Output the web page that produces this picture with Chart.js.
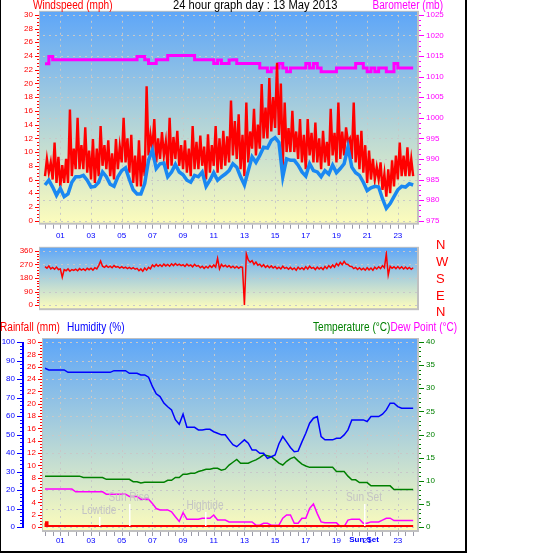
<!DOCTYPE html>
<html>
<head>
<meta charset="utf-8">
<script src="https://cdn.jsdelivr.net/npm/chart.js@4.4.1/dist/chart.umd.min.js"></script>
<style>
body { margin: 0; background: #fff; }
#wrap { position: relative; width: 543px; height: 555px; overflow: hidden; font-family: "Liberation Sans", Arial, sans-serif; }
#frame { position: absolute; left: 0; top: 0; width: 464px; height: 551px; border-left: 1px solid #000; border-right: 2px solid #000; border-bottom: 2px solid #000; }
canvas { position: absolute; left: 0; }
.t { position: absolute; font-size: 12px; line-height: 12px; white-space: nowrap; transform: scaleX(0.84); transform-origin: left top; }
.r { transform-origin: right top; }
.c { position: absolute; left: 436px; font-size: 13px; line-height: 13px; color: #f00; }
</style>
</head>
<body>
<div id="wrap">
  <div id="frame"></div>
  <canvas id="wind" width="466" height="240" style="top:0"></canvas>
  <canvas id="dir" width="466" height="84" style="top:236px"></canvas>
  <canvas id="temp" width="466" height="235" style="top:320px"></canvas>
  <div class="t" style="left:33px;top:-1px;color:#f00">Windspeed (mph)</div>
  <div class="t" style="left:173px;top:-1px;color:#000;transform:scaleX(0.93)">24 hour graph day : 13 May 2013</div>
  <div class="t r" style="right:100px;top:-1px;color:#f0f">Barometer (mb)</div>
  <div class="c" style="top:238px">N</div>
  <div class="c" style="top:255px">W</div>
  <div class="c" style="top:272px">S</div>
  <div class="c" style="top:289px">E</div>
  <div class="c" style="top:305px">N</div>
  <div class="t" style="left:0;top:321px;color:#f00">Rainfall (mm)</div>
  <div class="t" style="left:67px;top:321px;color:#00f">Humidity (%)</div>
  <div class="t" style="left:313px;top:321px;color:#008000">Temperature (°C)<span style="color:#f0f">Dew Point (°C)</span></div>
</div>
<script>
// readings every 15 minutes, 00:00 .. 24:00
const windAvg = [
  5.2, 5.9, 4.9, 3.7,   4.7, 3.5, 3.9, 5.6,   6.4, 6.4, 6.6, 5.9,   4.9, 5.0, 5.6, 7.1,
  6.4, 5.3, 5.0, 6.4,   7.3, 7.7, 6.0, 4.5,   3.9, 3.9, 5.4, 8.8,   10.3, 7.6, 8.3, 8.4,
  6.4, 7.1, 8.2, 7.1,   6.7, 5.9, 5.6, 6.6,   6.4, 7.1, 5.0, 5.9,   7.0, 5.9, 6.4, 6.8,
  7.3, 8.3, 7.8, 6.4,   5.2, 7.3, 9.3, 8.5,   9.5, 10.7, 10.6, 11.7, 12.1, 11.4, 6.4, 9.0,
  8.8, 8.8, 8.1, 7.1,   6.5, 8.3, 7.3, 7.1,   6.4, 7.3, 6.8, 8.1,   7.0, 7.6, 8.3, 10.7,
  7.8, 7.0, 6.6, 5.6,   4.4, 4.8, 5.0, 4.9,   3.2, 1.8, 2.5, 3.5,   4.5, 5.0, 4.9, 5.4,
  5.2
];

// gusts every 7.5 minutes
const windGust = [
  6.5, 9.0, 7.0, 8.5, 6.0, 11.4, 5.5, 9.3,
  5.0, 8.1, 5.5, 9.0, 5.5, 16.2, 6.5, 10.5,
  7.5, 15.0, 7.5, 11.0, 7.5, 13.6, 7.0, 10.2,
  6.0, 11.9, 5.5, 10.5, 6.5, 13.8, 8.0, 11.0,
  7.5, 11.7, 6.5, 9.8, 6.0, 11.9, 7.5, 10.8,
  8.5, 15.0, 8.5, 12.0, 7.0, 12.5, 5.5, 9.5,
  5.0, 11.7, 5.0, 9.5, 6.5, 19.6, 9.5, 12.5,
  10.5, 14.8, 8.5, 12.0, 9.0, 12.9, 9.5, 11.5,
  7.5, 15.0, 8.0, 12.2, 9.0, 13.1, 8.0, 11.0,
  7.5, 11.7, 7.0, 10.5, 6.5, 13.8, 7.5, 11.5,
  7.5, 12.4, 8.0, 10.8, 6.0, 12.6, 7.0, 11.0,
  8.0, 13.8, 7.0, 12.0, 7.5, 13.1, 8.0, 12.3,
  8.5, 17.5, 9.5, 14.5, 9.0, 15.5, 7.5, 12.5,
  6.5, 17.2, 8.5, 13.0, 10.5, 16.3, 9.5, 14.0,
  10.5, 19.9, 12.0, 16.5, 12.0, 20.8, 13.0, 18.0,
  13.5, 23.0, 12.5, 20.0, 8.0, 17.2, 10.0, 13.5,
  10.0, 16.0, 10.0, 13.0, 9.0, 14.8, 8.5, 12.5,
  7.5, 14.8, 9.5, 12.8, 8.5, 14.3, 8.5, 12.0,
  7.5, 13.1, 8.5, 11.5, 8.0, 16.3, 9.5, 12.8,
  8.5, 17.2, 9.0, 13.0, 9.5, 13.6, 11.5, 12.0,
  9.0, 17.2, 8.5, 12.5, 7.5, 13.1, 7.0, 11.0,
  5.5, 10.2, 6.0, 9.0, 6.0, 7.8, 6.0, 8.5,
  4.5, 6.8, 3.5, 7.5, 4.0, 8.8, 5.0, 9.5,
  6.0, 11.4, 6.5, 9.5, 6.5, 10.7, 6.5, 9.0,
  6.5
];

// barometer every 15 minutes (mb)
const baro = [
  1013.1, 1014.9, 1014.1, 1014.1,  1014.1, 1014.1, 1014.1, 1014.1,  1014.1, 1014.1, 1014.1, 1014.1,
  1014.1, 1014.1, 1014.1, 1014.1,  1014.1, 1014.1, 1014.1, 1014.1,  1014.1, 1014.1, 1014.1, 1014.1,
  1014.9, 1014.9, 1014.1, 1013.2,  1013.2, 1014.1, 1014.1, 1014.1,  1015.1, 1015.1, 1015.1, 1015.1,
  1015.1, 1015.1, 1015.1, 1014.1,  1014.1, 1014.1, 1014.1, 1014.1,  1013.2, 1014.0, 1013.2, 1013.2,
  1014.0, 1014.1, 1013.2, 1013.2,  1013.2, 1013.2, 1013.2, 1013.2,  1012.1, 1012.1, 1011.2, 1012.1,
  1012.1, 1013.2, 1012.1, 1011.2,  1012.1, 1012.1, 1012.1, 1012.1,  1013.2, 1012.1, 1013.2, 1012.1,
  1011.2, 1011.2, 1011.2, 1011.2,  1012.1, 1012.1, 1012.1, 1012.1,  1012.1, 1013.2, 1013.2, 1012.1,
  1011.2, 1012.1, 1011.2, 1012.1,  1012.1, 1011.2, 1011.2, 1013.2,  1012.1, 1012.1, 1012.1, 1012.1,
  1012.1
];

// wind direction every 7.5 minutes (degrees)
const windDir = [
  255, 245, 260, 240, 250, 238, 252, 236,
  240, 185, 235, 228, 240, 225, 236, 230,
  238, 228, 242, 232, 240, 230, 244, 235,
  245, 232, 248, 240, 262, 292, 258, 250,
  262, 250, 258, 248, 262, 252, 256, 246,
  255, 245, 252, 242, 250, 240, 248, 238,
  244, 228, 240, 225, 246, 232, 250, 240,
  266, 255, 270, 258, 268, 256, 272, 260,
  270, 258, 274, 262, 276, 264, 272, 262,
  268, 256, 272, 260, 266, 254, 270, 258,
  262, 248, 258, 244, 256, 246, 262, 250,
  266, 252, 310, 240, 270, 256, 264, 252,
  262, 248, 258, 246, 256, 244, 254, 250,
  0, 340, 300, 285, 295, 270, 285, 265,
  272, 255, 268, 250, 262, 248, 260, 246,
  256, 242, 252, 240, 258, 244, 250, 238,
  250, 236, 246, 232, 252, 238, 248, 236,
  254, 240, 258, 244, 250, 236, 252, 240,
  250, 236, 256, 242, 262, 248, 266, 252,
  276, 262, 284, 268, 290, 272, 270, 258,
  256, 242, 250, 236, 248, 234, 244, 232,
  248, 234, 246, 232, 252, 240, 254, 242,
  262, 248, 340, 200, 258, 244, 254, 242,
  256, 242, 254, 240, 252, 240, 250, 238,
  248
];

// every 15 minutes
const humidity = [
  85.8, 84.9, 84.9, 84.9,  84.9, 84.9, 83.6, 83.6,  83.6, 83.6, 83.6, 83.6,  83.6, 83.6, 83.6, 83.6,
  83.6, 83.6, 84.5, 84.5,  84.5, 84.5, 83.1, 83.1,  83.1, 82.2, 82.2, 81.0,  76.0, 72.0, 70.5, 67.0,
  65.0, 63.3, 58.0, 55.5,  61.0, 53.9, 53.9, 53.9,  52.5, 52.5, 52.8, 52.8,  51.5, 50.7, 49.8, 49.8,
  47.1, 44.5, 43.4, 45.3,  47.1, 45.3, 41.6, 41.6,  39.8, 39.8, 37.1, 38.0,  38.9, 45.0, 48.9, 46.0,
  43.0, 40.7, 41.0, 46.0,  50.7, 56.1, 58.8, 59.7,  48.9, 47.1, 47.1, 47.1,  48.0, 48.0, 49.8, 52.5,
  57.9, 57.9, 57.9, 57.9,  57.0, 59.7, 59.7, 59.7,  61.0, 63.3, 66.9, 66.9,  65.1, 64.2, 64.2, 64.2,
  64.2
];
const temperature = [
  11.0, 11.0, 11.0, 11.0,  11.0, 11.0, 11.0, 11.0,  11.0, 11.0, 10.7, 10.7,  10.7, 10.7, 10.7, 10.7,
  10.3, 10.3, 10.3, 10.3,  10.3, 10.3, 10.3, 9.8,   9.8, 9.5, 9.65, 9.65,   9.65, 9.65, 9.65, 9.65,
  10.1, 10.1, 10.7, 10.7,  11.4, 11.4, 11.6, 11.6,  12.0, 12.2, 12.5, 12.5,  12.7, 12.7, 12.3, 12.5,
  13.4, 14.0, 14.6, 13.8,  13.8, 13.8, 14.2, 14.5,  15.0, 15.6, 15.4, 15.2,  14.5, 13.8, 13.4, 14.2,
  14.8, 15.1, 14.3, 13.6,  13.2, 12.9, 12.9, 12.9,  12.9, 12.9, 12.9, 12.9,  12.0, 12.0, 12.0, 11.0,
  10.2, 10.2, 9.6, 9.6,    9.6, 8.9, 8.9, 8.9,      8.9, 8.9, 8.9, 8.1,      8.1, 8.1, 8.1, 8.1,
  8.1
];
const dewPoint = [
  8.2, 8.2, 8.2, 8.2,  8.2, 8.2, 8.2, 8.2,  7.6, 7.6, 7.6, 7.6,  7.6, 7.6, 7.6, 7.6,
  7.1, 7.1, 7.1, 7.1,  7.1, 7.1, 6.6, 6.6,  6.6, 6.0, 6.0, 6.0,  5.1, 4.0, 3.7, 3.7,
  3.7, 3.3, 2.2, 1.2,  3.1, 1.7, 1.7, 1.7,  1.7, 1.9, 1.9, 1.9,  2.6, 1.5, 1.5, 1.5,
  1.1, 1.1, 1.1, 1.1,  1.1, 1.1, 1.1, 0.4,  0.4, 0.8, 0.8, 0.4,  0.4, 0.4, 1.9, 2.6,
  2.6, 0.8, 0.8, 1.9,  1.9, 4.0, 5.0, 2.9,  1.1, 0.9, 0.9, 0.9,  0.9, 0.1, 0.1, 1.5,
  1.7, 1.7, 1.7, 0.8,  0.8, 1.1, 1.1, 1.1,  1.5, 1.9, 1.9, 1.4,  1.4, 1.4, 1.4, 1.4,
  1.4
];
const rainHours = [0, 0.1, 24];
const rainfall = [0.6, 0, 0];

const labelHours = [1, 3, 5, 7, 9, 11, 13, 15, 17, 19, 21, 23];
const eventNames = ['Lowtide', 'Sun Rise', 'Hightide', 'Sun Set'];
const eventHours = [3.55, 5.45, 10.4, 20.8];

const X_MIN = -0.13, X_MAX = 24.25;
const tickFont = { family: 'Liberation Sans', size: 8 };

function overDay(values) {
  return values.map((v, i) => ({ x: i * 24 / (values.length - 1), y: v }));
}

function hourAxis(show, height, pad) {
  return {
    type: 'linear', position: 'bottom', display: show, min: X_MIN, max: X_MAX,
    grid: { display: false, drawTicks: false }, border: { display: false },
    afterBuildTicks: s => { s.ticks = labelHours.map(v => ({ value: v })); },
    afterFit: s => { s.height = height; },
    ticks: { autoSkip: false, maxRotation: 0, padding: pad, color: '#0000ff', font: tickFont,
      callback: v => String(v).padStart(2, '0') }
  };
}

function valueAxis(pos, min, max, step, width, pad, color, weight) {
  return {
    type: 'linear', position: pos, min: min, max: max, weight: weight || 0,
    grid: { display: false, drawTicks: false }, border: { display: false },
    afterFit: s => { s.width = width; },
    ticks: { stepSize: step, padding: pad, color: color, font: tickFont, autoSkip: false, callback: v => v }
  };
}

// gradient plot box, dotted grid and axis tick marks
function panel(o) {
  return {
    id: 'panel',
    beforeDraw(chart) {
      const { ctx, chartArea: a } = chart;
      const l = a.left - o.ext[0], t = a.top - o.ext[1], r = a.right + o.ext[2], b = a.bottom + o.ext[3];
      ctx.save();
      ctx.fillStyle = '#c0c0c0';
      ctx.fillRect(l - 1, t - 1, r - l + 3, b - t + 3);
      const g = ctx.createLinearGradient(0, t, 0, b);
      g.addColorStop(0, '#5ea6f8');
      g.addColorStop(1, '#fcfcbc');
      ctx.fillStyle = g;
      ctx.fillRect(l, t, r - l, b - t);
      ctx.fillStyle = '#c8c8c8';
      const gs = chart.scales[o.grid];
      gs.ticks.forEach(tk => {
        const y = Math.round(gs.getPixelForValue(tk.value));
        for (let x = l + 3; x < r - 1; x += 6) ctx.fillRect(x, y, 2, 1);
      });
      if (o.vGrid) {
        labelHours.forEach(h => {
          const x = Math.round(chart.scales.x.getPixelForValue(h));
          for (let y = t + 3; y < b - 1; y += 6) ctx.fillRect(x, y, 1, 2);
        });
      }
      ctx.restore();
      chart.$box = { l, t, r, b };
    },
    afterDraw(chart) {
      const { ctx } = chart;
      const bx = chart.$box;
      ctx.save();
      o.ticks.forEach(tk => {
        const s = chart.scales[tk.id];
        const x0 = tk.side === 'left' ? bx.l - 1 - (tk.gap || 0) : bx.r + 2;
        ctx.fillStyle = tk.color;
        const n = Math.round((s.max - s.min) / tk.step);
        for (let i = 0; i <= n; i++) {
          const v = s.min + i * tk.step;
          const y = Math.round(s.getPixelForValue(v));
          const q = v / tk.major;
          const len = Math.abs(q - Math.round(q)) < 1e-6 ? tk.long : tk.short;
          if (tk.side === 'left') ctx.fillRect(x0 - len, y, len, 1);
          else ctx.fillRect(x0, y, len, 1);
        }
        if (tk.line) ctx.fillRect(x0, s.getPixelForValue(s.max), tk.line, s.getPixelForValue(s.min) - s.getPixelForValue(s.max) + 1);
      });
      if (o.xTicks) {
        const xs = chart.scales.x;
        ctx.fillStyle = '#9a9aa8';
        for (let i = 0; i <= 48; i++) {
          const x = Math.round(xs.getPixelForValue(i / 2));
          ctx.fillRect(x, bx.b + 2, 1, 4);
        }
      }
      ctx.restore();
    }
  };
}

const common = {
  responsive: false, animation: false, events: [],
  plugins: { legend: { display: false }, tooltip: { enabled: false } },
  elements: { point: { radius: 0 }, line: { tension: 0 } }
};

new Chart(document.getElementById('wind'), {
  type: 'line',
  plugins: [panel({
    ext: [3, 3, 0, 2], grid: 'y2', vGrid: true, xTicks: true,
    ticks: [
      { id: 'y', side: 'left', step: 0.5, major: 2, long: 4, short: 2, color: '#ff0000' },
      { id: 'y2', side: 'right', step: 1.25, major: 5, long: 5, short: 2, color: '#ff00ff' }
    ]
  })],
  data: {
    datasets: [
      { label: 'Average', data: overDay(windAvg), borderColor: '#1a88f2', borderWidth: 3.5, yAxisID: 'y' },
      { label: 'Gust', data: overDay(windGust), borderColor: '#ff0000', borderWidth: 2.4, yAxisID: 'y' },
      { label: 'Barometer', data: overDay(baro), borderColor: '#ff00ff', borderWidth: 3, stepped: true, yAxisID: 'y2' }
    ]
  },
  options: Object.assign({}, common, {
    layout: { padding: { top: 13.3, left: 0, right: 0, bottom: 0 } },
    scales: {
      x: hourAxis(true, 19.3, 10),
      y: valueAxis('left', 0, 30, 2, 43, 10, '#ff0000'),
      y2: valueAxis('right', 975, 1025, 5, 49, 9, '#ff00ff')
    }
  })
});

new Chart(document.getElementById('dir'), {
  type: 'line',
  plugins: [panel({
    ext: [3, 3, 0, 3], grid: 'y', vGrid: false, xTicks: false,
    ticks: [{ id: 'y', side: 'left', step: 18, major: 90, long: 4, short: 2, color: '#ff0000' }]
  })],
  data: {
    datasets: [
      { label: 'Direction', data: overDay(windDir), borderColor: '#ff0000', borderWidth: 1.5 }
    ]
  },
  options: Object.assign({}, common, {
    layout: { padding: { top: 8, left: 0, right: 49, bottom: 11.7 } },
    scales: {
      x: hourAxis(false, 0, 0),
      y: valueAxis('left', 0, 360, 90, 43, 10, '#ff0000')
    }
  })
});

const events = {
  id: 'events',
  afterDatasetsDraw(chart) {
    const { ctx } = chart;
    const xs = chart.scales.x, ys = chart.scales.rain;
    const base = ys.getPixelForValue(0);
    const lift = [16, 29, 21, 29];
    ctx.save();
    ctx.font = '12px "Liberation Sans", Arial';
    ctx.textAlign = 'center';
    ctx.textBaseline = 'middle';
    eventNames.forEach((name, i) => {
      const x = Math.round(xs.getPixelForValue(eventHours[i]));
      ctx.fillStyle = '#ffffff';
      ctx.fillRect(x, base - lift[i] + 6, 1.5, lift[i] - 7);
      ctx.save();
      ctx.translate(x, base - lift[i]);
      ctx.scale(0.84, 1);
      ctx.fillStyle = '#c4c4c4';
      ctx.fillText(name, 0, 0);
      ctx.restore();
    });
    ctx.restore();
  },
  afterDraw(chart) {
    const { ctx } = chart;
    const xs = chart.scales.x;
    const i = eventNames.indexOf('Sun Set');
    ctx.save();
    ctx.font = 'bold 8px "Liberation Sans"';
    ctx.fillStyle = '#0000ff';
    ctx.textAlign = 'center';
    ctx.textBaseline = 'middle';
    ctx.fillText(eventNames[i], xs.getPixelForValue(eventHours[i]), chart.chartArea.bottom + 13);
    ctx.restore();
  }
};

new Chart(document.getElementById('temp'), {
  type: 'line',
  plugins: [panel({
    ext: [0, 3, 0, 3], grid: 'hum', vGrid: true, xTicks: true,
    ticks: [
      { id: 'rain', side: 'left', step: 0.5, major: 2, long: 4, short: 2, color: '#ff0000' },
      { id: 'hum', side: 'left', gap: 20, step: 2, major: 10, long: 5, short: 2, color: '#0000ff', line: 2 },
      { id: 'temp', side: 'right', step: 1, major: 5, long: 5, short: 2, color: '#008000' }
    ]
  }), events],
  data: {
    datasets: [
      { label: 'Rainfall', data: rainHours.map((h, i) => ({ x: h, y: rainfall[i] })), borderColor: '#ff0000', borderWidth: 4, stepped: true, yAxisID: 'rain' },
      { label: 'Humidity', data: overDay(humidity), borderColor: '#0000ff', borderWidth: 1.5, yAxisID: 'hum' },
      { label: 'Temperature', data: overDay(temperature), borderColor: '#008000', borderWidth: 1.5, yAxisID: 'temp' },
      { label: 'Dew Point', data: overDay(dewPoint), borderColor: '#ff00ff', borderWidth: 1.5, yAxisID: 'temp' }
    ]
  },
  options: Object.assign({}, common, {
    layout: { padding: { top: 22, left: 0, right: 0, bottom: 0 } },
    scales: {
      x: hourAxis(true, 28, 9),
      rain: valueAxis('left', 0, 30, 2, 22, 7, '#ff0000', 0),
      hum: valueAxis('left', 0, 100, 10, 21, 6, '#0000ff', 1),
      temp: valueAxis('right', 0, 40, 5, 49, 9, '#008000')
    }
  })
});
</script>
</body>
</html>
